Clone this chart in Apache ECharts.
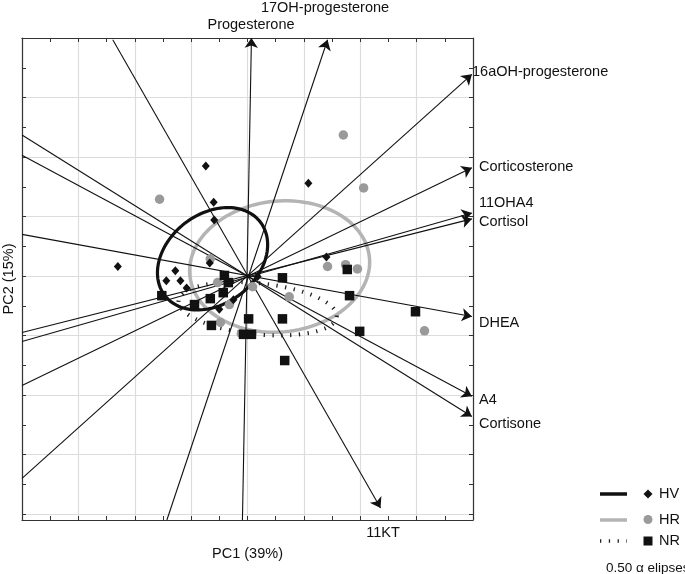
<!DOCTYPE html>
<html>
<head>
<meta charset="utf-8">
<script src="https://cdn.jsdelivr.net/npm/echarts@6/dist/echarts.min.js"></script>
<style>
  html, body { margin: 0; padding: 0; background: #fff; }
  #main { width: 685px; height: 574px; }
</style>
</head>
<body>
<div id="main"></div>
<script>
  // loadings: arrow tip and the far end of each variable line
  var varNames = ['Progesterone', '17OH-progesterone', '16aOH-progesterone', 'Corticosterone', '11OHA4',
                  'Cortisol', 'DHEA', 'A4', 'Cortisone', '11KT'];
  var varTips = [[0.07, 4.0], [1.42, 3.97], [3.98, 3.39], [3.98, 1.82], [3.98, 1.06],
                 [3.98, 0.96], [3.98, -0.68], [3.98, -2.02], [3.98, -2.36], [2.36, -3.9]];
  var varTails = [[-0.09, -4.1], [-1.43, -4.1], [-4, -3.4], [-4, -1.84], [-4, -1.1],
                  [-4, -0.95], [-4, 0.7], [-4, 2.03], [-4, 2.37], [-2.39, 3.97]];

  // scores per group
  var hvScores = [[-0.74, 1.85], [-0.60, 1.24], [-0.59, 0.94], [-2.30, 0.16], [-1.28, 0.09], [-1.44, -0.08],
                  [-1.19, -0.08], [-1.08, -0.20], [-0.67, 0.22], [1.08, 1.56], [1.40, 0.32], [-0.50, -0.56],
                  [-0.25, -0.40], [0.18, -0.01]];
  var hrScores = [[1.70, 2.37], [2.06, 1.48], [-1.56, 1.29], [1.42, 0.16], [1.74, 0.19], [1.95, 0.12],
                  [0.74, -0.35], [3.14, -0.92], [-0.11, -0.97], [-0.48, -0.78], [-0.66, 0.29], [-0.53, -0.11],
                  [-0.32, -0.48], [0.09, -0.18]];
  var nrScores = [[1.77, 0.11], [0.62, -0.03], [1.81, -0.33], [2.98, -0.60], [1.99, -0.93], [0.62, -0.72],
                  [0.66, -1.42], [0.02, -0.72], [-0.07, -0.98], [0.07, -0.98], [-0.64, -0.83], [-0.41, 0.01],
                  [-0.34, -0.11], [-0.43, -0.28], [-0.66, -0.38], [-0.94, -0.48], [-1.52, -0.33]];

  // 0.50 alpha ellipses: centre x, centre y, semi axis a, semi axis b, angle (deg)
  var hvEllipse = [-0.62, 0.29, 1.05, 0.77, 32.5];
  var hrEllipse = [0.57, 0.16, 1.6, 1.1, 5];
  var nrEllipse = [0.18, -0.55, 1.41, 0.43, -5.5];

  var FONT = '"Liberation Sans", Arial, Helvetica, sans-serif';

  function ellipseSeries(vals, color, width, dash) {
    return {
      type: 'custom',
      silent: true,
      data: [vals],
      encode: { x: 0, y: 1 },
      renderItem: function (params, api) {
        var cx = api.value(0), cy = api.value(1), a = api.value(2), b = api.value(3);
        var ang = api.value(4) * Math.PI / 180;
        var pts = [];
        for (var i = 0; i <= 120; i++) {
          var t = i / 120 * 2 * Math.PI;
          var x = cx + a * Math.cos(t) * Math.cos(ang) - b * Math.sin(t) * Math.sin(ang);
          var y = cy + a * Math.cos(t) * Math.sin(ang) + b * Math.sin(t) * Math.cos(ang);
          pts.push(api.coord([x, y]));
        }
        return {
          type: 'polygon',
          shape: { points: pts },
          style: { fill: 'none', stroke: color, lineWidth: width, lineDash: dash || null }
        };
      }
    };
  }

  function axisBase(pos, min, max, showSplit) {
    return {
      type: 'value', position: pos, min: min, max: max,
      axisLine: { show: true, onZero: false, lineStyle: { color: '#333', width: 1.2 } },
      axisTick: { show: true, inside: true, length: 4, lineStyle: { color: '#333' } },
      minorTick: { show: true, splitNumber: 2, length: 4, lineStyle: { color: '#333' } },
      axisLabel: { show: false },
      splitLine: { show: showSplit, lineStyle: { color: '#dcdcdc', width: 1.2 } }
    };
  }

  var xBottom = axisBase('bottom', -4, 4, true);
  xBottom.interval = 1;
  xBottom.name = 'PC1 (39%)';
  xBottom.nameLocation = 'middle';
  xBottom.nameGap = 26;
  xBottom.nameTextStyle = { fontFamily: FONT, fontSize: 14.5, color: '#111' };
  var xTop = axisBase('top', -4, 4, false);
  xTop.interval = 1;

  var yLeft = axisBase('left', -4.1, 4, true);
  yLeft.splitNumber = 8;
  yLeft.name = 'PC2 (15%)';
  yLeft.nameLocation = 'middle';
  yLeft.nameGap = 6;
  yLeft.nameRotate = 90;
  yLeft.nameTextStyle = { fontFamily: FONT, fontSize: 14.5, color: '#111' };
  var yRight = axisBase('right', -4.1, 4, false);
  yRight.splitNumber = 8;

  var labelPos = {
    'Progesterone': [251, 25, 'center'],
    '17OH-progesterone': [325, 8, 'center'],
    '16aOH-progesterone': [472, 72, 'left'],
    'Corticosterone': [479, 167, 'left'],
    '11OHA4': [479, 203, 'left'],
    'Cortisol': [479, 222, 'left'],
    'DHEA': [479, 323, 'left'],
    'A4': [479, 400, 'left'],
    'Cortisone': [479, 424, 'left'],
    '11KT': [383, 533, 'center']
  };

  var graphics = varNames.map(function (n) {
    var p = labelPos[n];
    return {
      type: 'text', x: p[0], y: p[1],
      style: { text: n, fill: '#111', font: '14.5px ' + FONT, textAlign: p[2], textVerticalAlign: 'middle' }
    };
  });

  // legend block
  graphics.push(
    { type: 'line', shape: { x1: 600, y1: 494, x2: 627, y2: 494 }, style: { stroke: '#111', lineWidth: 3.5 } },
    { type: 'line', shape: { x1: 600, y1: 520, x2: 627, y2: 520 }, style: { stroke: '#b4b4b4', lineWidth: 3.5 } },
    { type: 'line', shape: { x1: 600, y1: 541, x2: 627, y2: 541 }, style: { stroke: '#222', lineWidth: 3.5, lineDash: [1.3, 7.5] } },
    { type: 'polygon', shape: { points: [[648, 489.5], [652.5, 494], [648, 498.5], [643.5, 494]] }, style: { fill: '#111' } },
    { type: 'circle', shape: { cx: 648, cy: 519.5, r: 4.5 }, style: { fill: '#9a9a9a' } },
    { type: 'rect', shape: { x: 643.5, y: 536.5, width: 9, height: 9 }, style: { fill: '#111' } },
    { type: 'text', x: 659, y: 494, style: { text: 'HV', fill: '#111', font: '14.5px ' + FONT, textVerticalAlign: 'middle' } },
    { type: 'text', x: 659, y: 520, style: { text: 'HR', fill: '#111', font: '14.5px ' + FONT, textVerticalAlign: 'middle' } },
    { type: 'text', x: 659, y: 541, style: { text: 'NR', fill: '#111', font: '14.5px ' + FONT, textVerticalAlign: 'middle' } },
    { type: 'text', x: 606, y: 568, style: { text: '0.50 α elipses', fill: '#111', font: '13.5px ' + FONT, textVerticalAlign: 'middle' } }
  );

  var chart = echarts.init(document.getElementById('main'));
  chart.setOption({
    animation: false,
    backgroundColor: '#fff',
    grid: { left: 22, top: 38, width: 451, height: 482, containLabel: false, outerBoundsMode: 'none' },
    xAxis: [xBottom, xTop],
    yAxis: [yLeft, yRight],
    graphic: graphics,
    series: [
      ellipseSeries(hrEllipse, '#b4b4b4', 3.5),
      ellipseSeries(nrEllipse, '#222', 4, [1.3, 7.5]),
      ellipseSeries(hvEllipse, '#111', 3.2),
      {
        type: 'lines',
        coordinateSystem: 'cartesian2d',
        silent: true,
        symbol: ['none', 'arrow'],
        symbolSize: 10,
        lineStyle: { color: '#111', width: 1.1, opacity: 1 },
        data: varNames.map(function (n, i) {
          return { name: n, coords: [varTails[i], varTips[i]] };
        })
      },
      { type: 'scatter', name: 'HR', data: hrScores, symbol: 'circle', symbolSize: 9.5, itemStyle: { color: '#9a9a9a', opacity: 1 } },
      { type: 'scatter', name: 'NR', data: nrScores, symbol: 'rect', symbolSize: 9.5, itemStyle: { color: '#111', opacity: 1 } },
      { type: 'scatter', name: 'HV', data: hvScores, symbol: 'diamond', symbolSize: [8, 9], itemStyle: { color: '#111', opacity: 1 } }
    ]
  });
</script>
</body>
</html>
